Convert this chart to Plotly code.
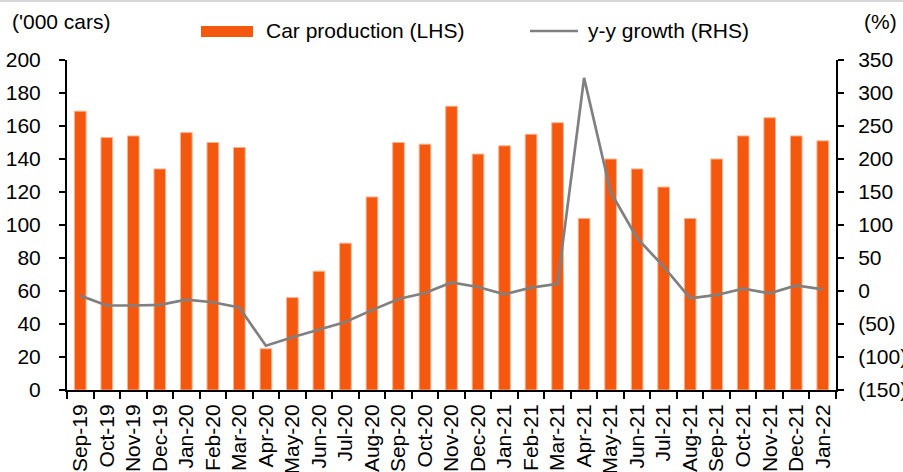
import plotly.graph_objects as go

months = ["Sep-19", "Oct-19", "Nov-19", "Dec-19", "Jan-20", "Feb-20", "Mar-20", "Apr-20",
          "May-20", "Jun-20", "Jul-20", "Aug-20", "Sep-20", "Oct-20", "Nov-20", "Dec-20",
          "Jan-21", "Feb-21", "Mar-21", "Apr-21", "May-21", "Jun-21", "Jul-21", "Aug-21",
          "Sep-21", "Oct-21", "Nov-21", "Dec-21", "Jan-22"]

car_production = [169, 153, 154, 134, 156, 150, 147, 25,
                  56, 72, 89, 117, 150, 149, 172, 143,
                  148, 155, 162, 104, 140, 134, 123, 104,
                  140, 154, 165, 154, 151]

yy_growth = [-7, -22, -22, -21, -13, -17, -25, -83,
             -70, -58, -47, -29, -12, -3, 13, 6,
             -5, 5, 11, 323, 150, 80, 37, -11,
             -6, 3.5, -3.5, 8.5, 2.5]

left_ticks = [0, 20, 40, 60, 80, 100, 120, 140, 160, 180, 200]
right_ticks = [-150, -100, -50, 0, 50, 100, 150, 200, 250, 300, 350]
right_ticktext = [f"({-v})" if v < 0 else str(v) for v in right_ticks]

BAR = "#F4580F"
LINE = "#808080"
FONT = "Liberation Sans, Arial, sans-serif"
FS = 21

fig = go.Figure()
fig.add_trace(go.Bar(x=months, y=car_production, name="Car production (LHS)",
                     marker=dict(color=BAR, line=dict(color="#F9B590", width=1)),
                     showlegend=False))
fig.add_trace(go.Scatter(x=months, y=yy_growth, name="y-y growth (RHS)", yaxis="y2",
                         mode="lines", line=dict(color=LINE, width=2.7),
                         showlegend=False))

W, H = 903, 472
L, R, T, B = 67, 67, 60, 82
pw, ph = W - L - R, H - T - B


def px(x):
    return (x - L) / pw


def py(y):
    return (H - B - y) / ph


axis_common = dict(showline=True, linecolor="black", linewidth=2, ticks="outside",
                   tickcolor="black", tickwidth=2, showgrid=False, zeroline=False,
                   automargin=False,
                   tickfont=dict(family=FONT, size=FS, color="black"))

fig.update_layout(
    width=W, height=H,
    margin=dict(l=L, r=R, t=T, b=B, pad=0, autoexpand=False),
    paper_bgcolor="white", plot_bgcolor="white",
    bargap=0.56,
    font=dict(family=FONT, size=FS, color="black"),
    xaxis=dict(**axis_common, ticklen=7, tickson="boundaries", tickangle=-90,
               type="category", ticklabelstandoff=4),
    yaxis=dict(**axis_common, ticklen=6, range=[0, 200], tickvals=left_ticks,
               ticklabelstandoff=14),
    yaxis2=dict(**axis_common, ticklen=6, range=[-150, 350], tickvals=right_ticks,
                ticktext=right_ticktext, overlaying="y", side="right",
                ticklabelstandoff=10),
    shapes=[
        dict(type="line", xref="paper", yref="paper", x0=px(0), x1=px(W),
             y0=py(1), y1=py(1), line=dict(color="#C8C8C8", width=1.5)),
        dict(type="rect", xref="paper", yref="paper", x0=px(201), x1=px(253),
             y0=py(37), y1=py(26), fillcolor=BAR, line=dict(width=0)),
        dict(type="line", xref="paper", yref="paper", x0=px(530), x1=px(578),
             y0=py(31), y1=py(31), line=dict(color=LINE, width=2.7)),
    ],
    annotations=[
        dict(text="Car production (LHS)", xref="paper", yref="paper", x=px(264), y=py(31),
             xanchor="left", yanchor="middle", showarrow=False, font=dict(size=FS)),
        dict(text="y-y growth (RHS)", xref="paper", yref="paper", x=px(586), y=py(31),
             xanchor="left", yanchor="middle", showarrow=False, font=dict(size=FS)),
        dict(text="('000 cars)", xref="paper", yref="paper", x=px(10), y=py(21),
             xanchor="left", yanchor="middle", showarrow=False, font=dict(size=FS)),
        dict(text="(%)", xref="paper", yref="paper", x=px(899), y=py(21),
             xanchor="right", yanchor="middle", showarrow=False, font=dict(size=FS)),
    ],
)

fig.write_html("out.html", config={"displayModeBar": False},
               post_script="document.body.style.margin='0';document.body.style.overflow='hidden';")
